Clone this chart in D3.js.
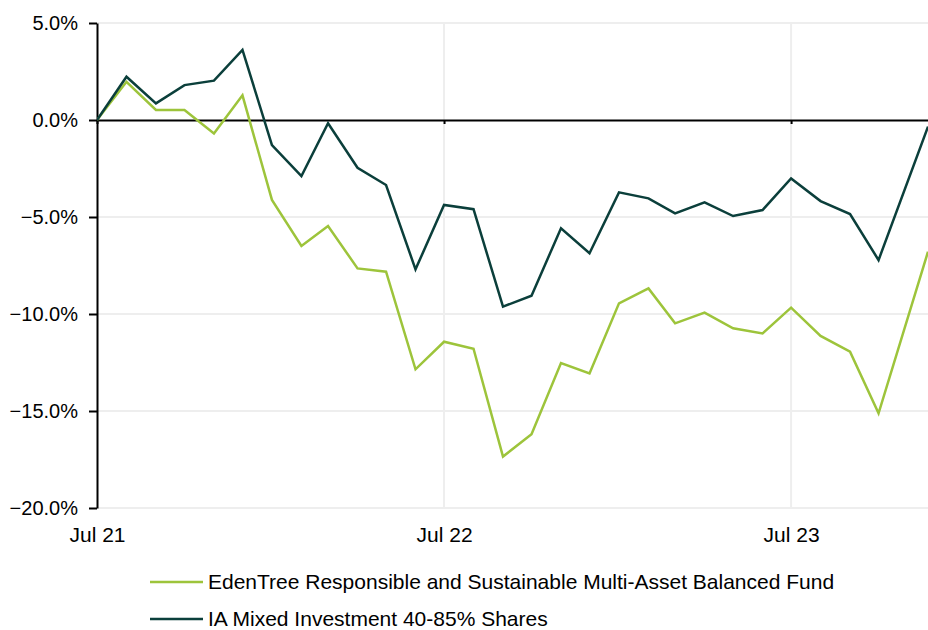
<!DOCTYPE html>
<html>
<head>
<meta charset="utf-8">
<script src="https://cdn.jsdelivr.net/npm/d3@7"></script>
<style>
  html, body { margin: 0; padding: 0; background: #ffffff; }
  svg { display: block; font-family: Arial, "Liberation Sans", sans-serif; }
</style>
</head>
<body>
<svg id="chart" width="928" height="630"></svg>
<script>
// ---- data ----
const dates = [
  "2021-07-01","2021-08-01","2021-09-01","2021-10-01","2021-11-01","2021-12-01",
  "2022-01-01","2022-02-01","2022-03-01","2022-04-01","2022-05-01","2022-06-01",
  "2022-07-01","2022-08-01","2022-09-01","2022-10-01","2022-11-01","2022-12-01",
  "2023-01-01","2023-02-01","2023-03-01","2023-04-01","2023-05-01","2023-06-01",
  "2023-07-01","2023-08-01","2023-09-01","2023-10-01","2023-11-22"
];
const fundValues = [
  0, 1.97, 0.52, 0.52, -0.69, 1.27,
  -4.12, -6.49, -5.46, -7.65, -7.82, -12.85,
  -11.43, -11.79, -17.35, -16.20, -12.53, -13.06,
  -9.45, -8.68, -10.48, -9.93, -10.74, -11.00,
  -9.67, -11.13, -11.94, -15.12, -6.79
];
const sectorValues = [
  0, 2.23, 0.86, 1.80, 2.03, 3.61,
  -1.29, -2.89, -0.17, -2.46, -3.35, -7.70,
  -4.38, -4.60, -9.62, -9.06, -5.58, -6.87,
  -3.73, -4.04, -4.81, -4.24, -4.95, -4.64,
  -3.01, -4.18, -4.85, -7.22, -0.34
];
const seriesNames = [
  "EdenTree Responsible and Sustainable Multi-Asset Balanced Fund",
  "IA Mixed Investment 40-85% Shares"
];
const seriesColors = ["#9dc43b", "#0b3f3b"];
const yTicks = [5, 0, -5, -10, -15, -20];
const xTickDates = ["2021-07-01", "2022-07-01", "2023-07-01"];

// ---- chart ----
(function () {
const parse = d3.timeParse("%Y-%m-%d");
const svg = d3.select("#chart");
const mLeft = 97, mRight = 928, mTop = 23, mBottom = 508;
const FONT = "Arial, 'Liberation Sans', sans-serif";

const x = d3.scaleTime()
  .domain([parse(dates[0]), parse(dates[dates.length - 1])])
  .range([mLeft, mRight]);
const y = d3.scaleLinear().domain([-20, 5]).range([mBottom, mTop]);

// gridlines
const grid = svg.append("g");
grid.selectAll("line.h").data(yTicks.filter(v => v !== 0)).join("line")
  .attr("class", "h")
  .attr("x1", mLeft).attr("x2", mRight)
  .attr("y1", d => y(d)).attr("y2", d => y(d))
  .attr("stroke", "#eeeeee").attr("stroke-width", 2);
grid.selectAll("line.v").data(xTickDates.slice(1)).join("line")
  .attr("class", "v")
  .attr("x1", d => x(parse(d))).attr("x2", d => x(parse(d)))
  .attr("y1", mTop).attr("y2", mBottom)
  .attr("stroke", "#eeeeee").attr("stroke-width", 2);

// x axis at zero line
const xAxis = d3.axisBottom(x)
  .tickValues(xTickDates.map(parse))
  .tickFormat(d3.timeFormat("%b %y"))
  .tickSize(4).tickSizeOuter(0).tickPadding(0);
const xg = svg.append("g").attr("transform", `translate(0,${y(0)})`).call(xAxis);
xg.select(".domain").attr("stroke", "#000").attr("stroke-width", 2);
xg.selectAll(".tick line").attr("stroke", "#000").attr("stroke-width", 2);
xg.selectAll(".tick text")
  .attr("y", mBottom - y(0) + 34).attr("dy", 0)
  .attr("font-size", 21).attr("fill", "#000")
  .attr("font-family", FONT);

// y axis
const yAxis = d3.axisLeft(y)
  .tickValues(yTicks)
  .tickFormat(d => d3.format(".1f")(d) + "%")
  .tickSize(8).tickSizeOuter(0).tickPadding(11);
const yg = svg.append("g").attr("transform", `translate(${mLeft},0)`).call(yAxis);
yg.select(".domain").attr("stroke", "#000").attr("stroke-width", 2);
yg.selectAll(".tick line").attr("stroke", "#000").attr("stroke-width", 2);
yg.selectAll(".tick text")
  .attr("font-size", 20).attr("fill", "#000")
  .attr("font-family", FONT);

// lines
svg.append("defs").append("clipPath").attr("id", "clip")
  .append("rect").attr("x", mLeft).attr("y", 0).attr("width", mRight - mLeft).attr("height", mBottom);

const line = d3.line()
  .x((d, i) => x(parse(dates[i])))
  .y(d => y(d));

const seriesData = [fundValues, sectorValues];
svg.append("g").attr("clip-path", "url(#clip)")
  .selectAll("path").data(seriesData).join("path")
  .attr("d", d => line(d))
  .attr("fill", "none")
  .attr("stroke", (d, i) => seriesColors[i])
  .attr("stroke-width", 2.5)
  .attr("stroke-linejoin", "miter");

// legend
const legend = svg.append("g");
const lg = legend.selectAll("g").data(seriesNames).join("g")
  .attr("transform", (d, i) => `translate(150,${582 + i * 37})`);
lg.append("line").attr("x1", 0).attr("x2", 53).attr("y1", 0).attr("y2", 0)
  .attr("stroke", (d, i) => seriesColors[i]).attr("stroke-width", 2.5);
lg.append("text").attr("x", 58).attr("y", 0).attr("dy", "0.35em")
  .attr("font-size", 21).attr("fill", "#000")
  .attr("font-family", FONT)
  .text(d => d);
})();
</script>
</body>
</html>
